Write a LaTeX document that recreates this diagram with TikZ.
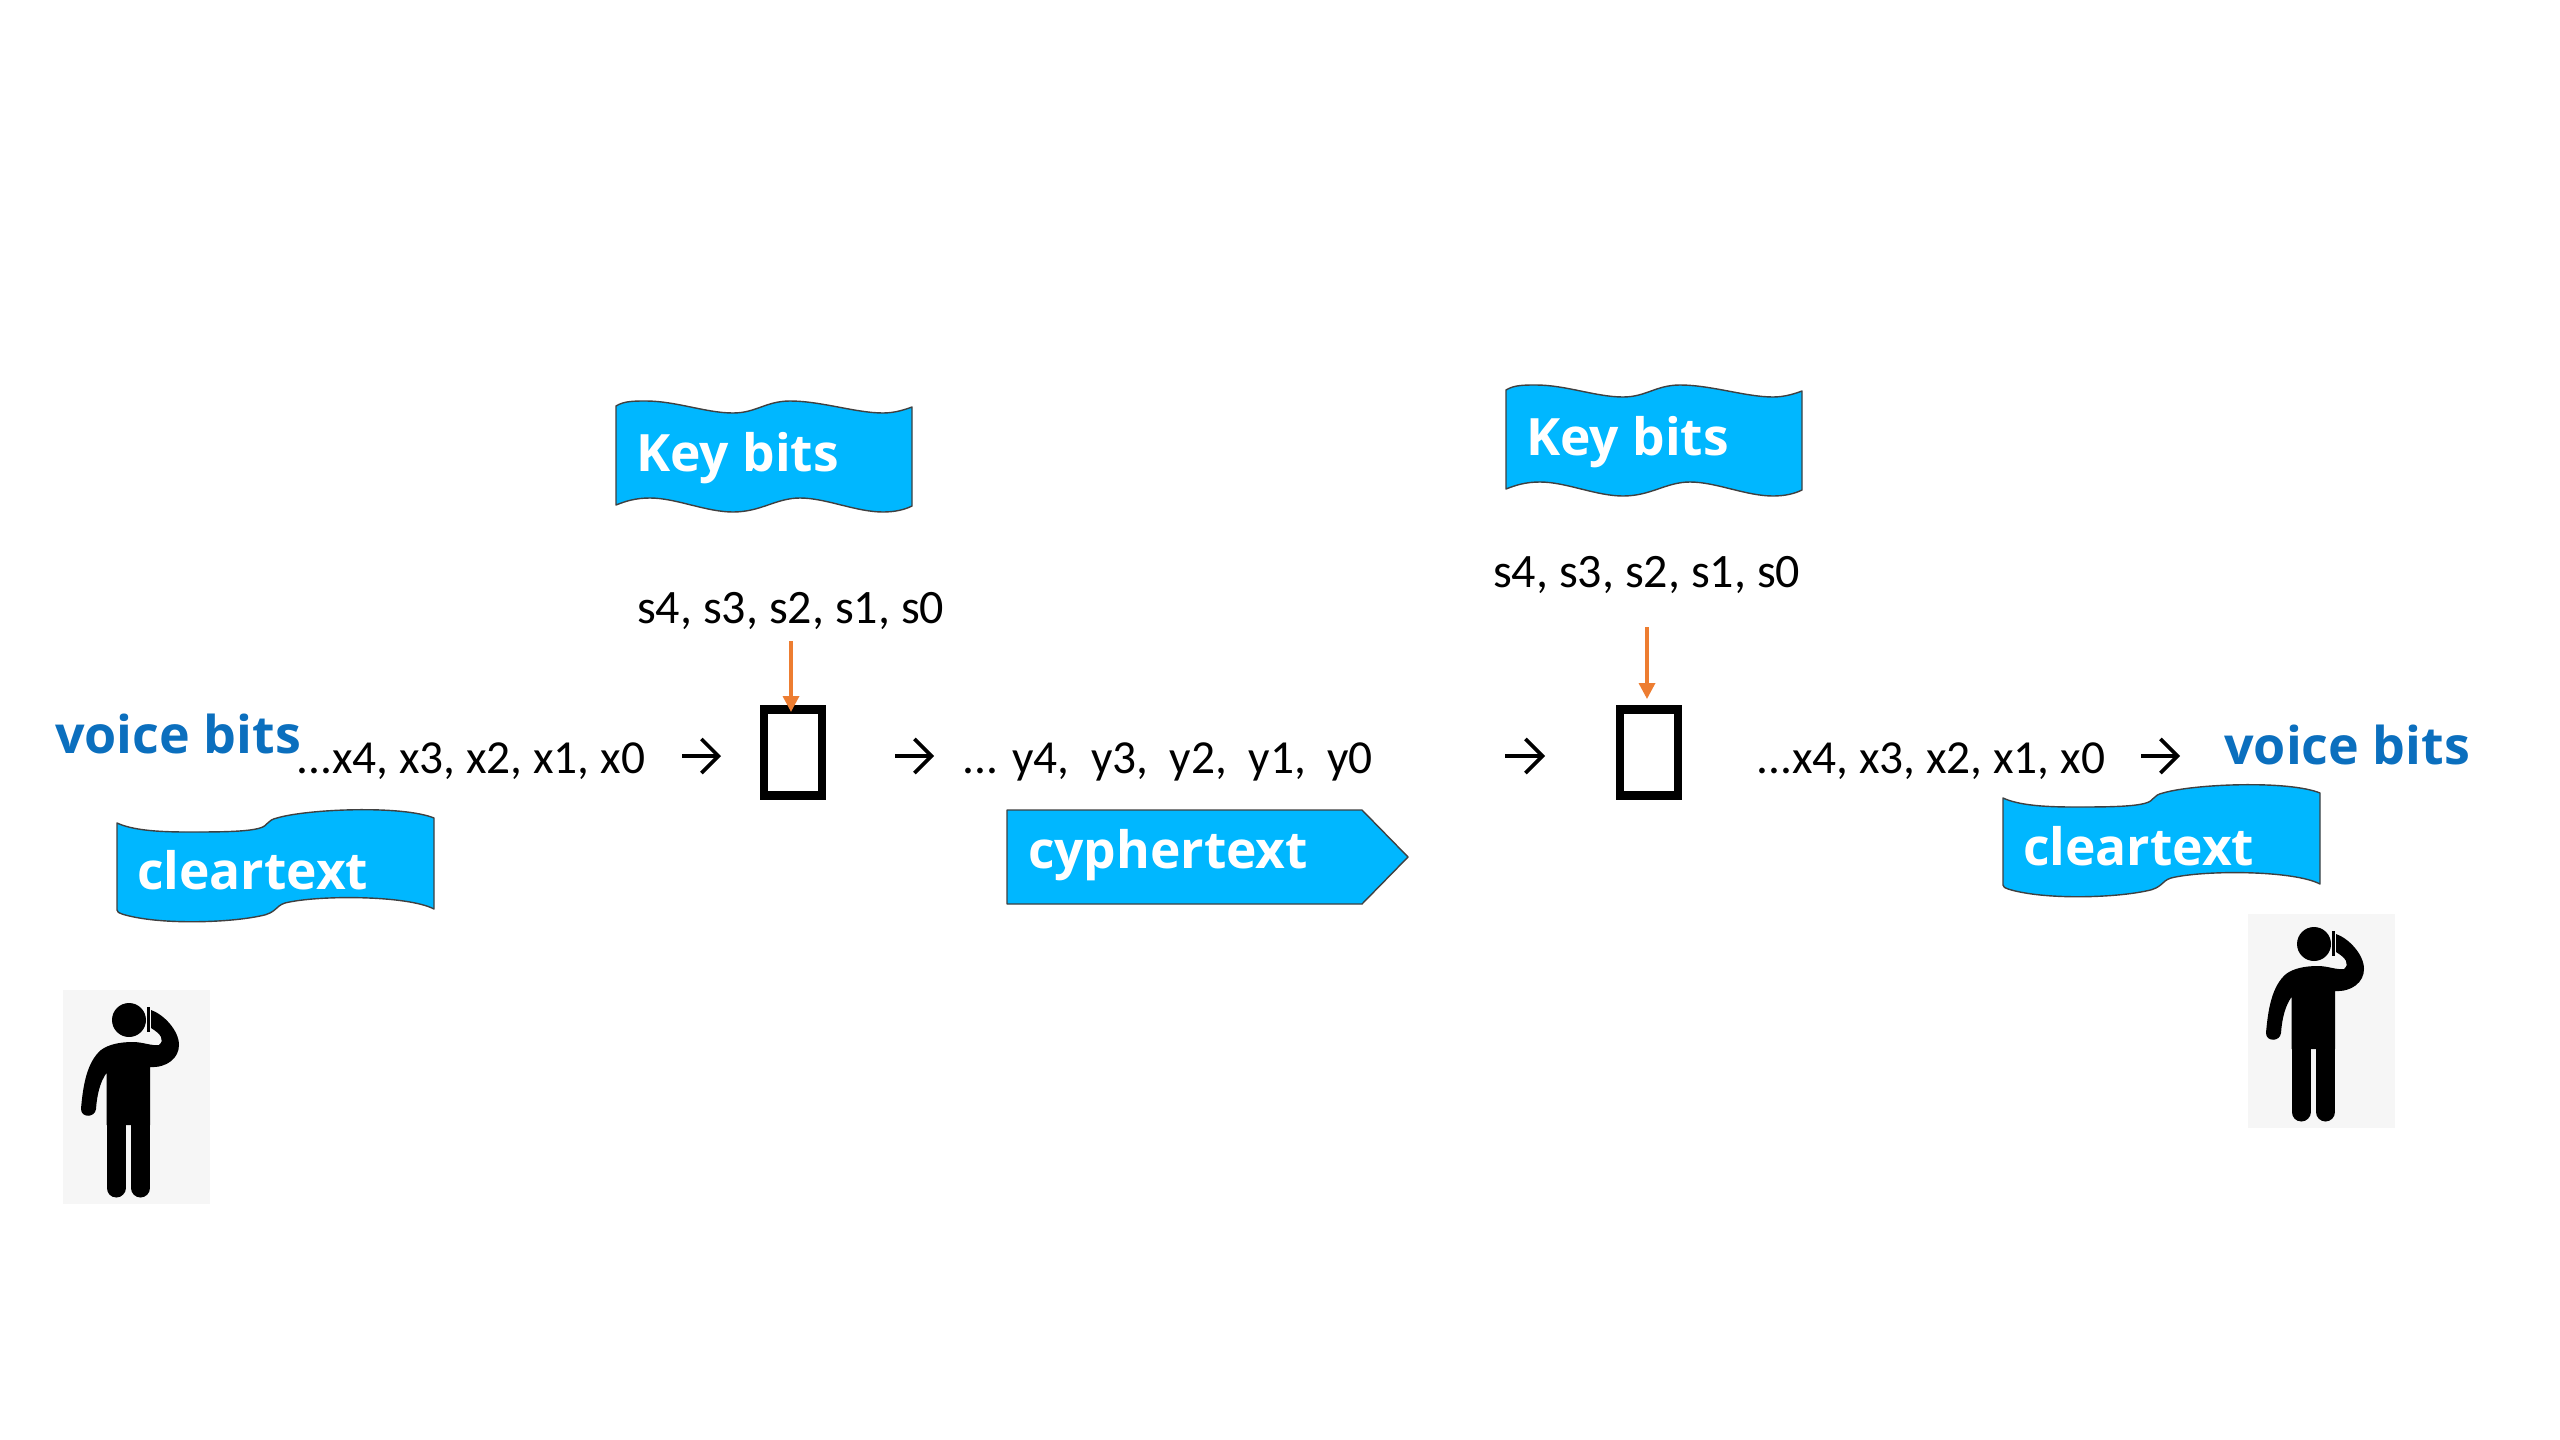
\documentclass[tikz,border=0pt]{standalone}
\usepackage{fontspec}
\setmainfont{Carlito}
\newfontfamily\flagfont{Open Sans}
\usetikzlibrary{arrows.meta}
\definecolor{flagblue}{HTML}{00B7FF}
\definecolor{voiceblue}{HTML}{0B6FBE}
\definecolor{keyorange}{HTML}{ED7D31}
\definecolor{photogray}{HTML}{F6F6F6}
\tikzset{
  seq/.style={anchor=base west,inner sep=0pt,font=\fontsize{48}{54}\selectfont,text=black},
  seqrow/.style={seq,font=\fontsize{47.4}{54}\selectfont},
  flagtext/.style={anchor=base west,inner sep=0pt,font=\flagfont\bfseries\fontsize{51.5}{58}\selectfont,text=white},
  voice/.style={anchor=base west,inner sep=0pt,font=\flagfont\bfseries\fontsize{52}{58}\selectfont,text=voiceblue},
  flagline/.style={fill=flagblue,draw=black!75,line width=1.4pt,line join=round},
  gatebox/.style={draw=black,line width=8.5pt,fill=white,minimum width=58pt,minimum height=86pt,inner sep=0pt,rectangle},
  flow/.style={draw=black,line width=3.6pt,-{Straight Barb[length=17pt,width=34pt,line width=3.6pt]}},
  keyflow/.style={draw=keyorange,line width=3.4pt,-{Triangle[length=16pt,width=16pt]}},
  cleartextflag/.pic={
    \path[flagline] (0,0) .. controls (15,7) and (40,9) .. (70,9)
      .. controls (100,9) and (130,9) .. (143,5)
      .. controls (151,3) and (150,-3) .. (160,-5)
      .. controls (190,-14) and (285,-18) .. (317,-5)
      -- (317,86)
      .. controls (290,72) and (200,72) .. (168,80)
      .. controls (158,83) and (160,90) .. (143,93)
      .. controls (110,100) and (40,102) .. (5,91)
      .. controls (2,90) and (0,89) .. (0,87) -- cycle;
  },
  keyflag/.pic={
    \path[flagline] (0,0) .. controls (8,-5) and (18,-5) .. (30,-5)
      .. controls (60,-5) and (90,7) .. (117,7)
      .. controls (140,7) and (150,-5) .. (174,-5)
      .. controls (205,-5) and (240,7) .. (267,7)
      .. controls (278,7) and (288,4) .. (296,1)
      -- (296,100)
      .. controls (288,104) and (278,106) .. (267,106)
      .. controls (240,106) and (210,92) .. (184,92)
      .. controls (160,92) and (145,106) .. (117,106)
      .. controls (90,106) and (60,92) .. (34,92)
      .. controls (20,92) and (10,95) .. (0,99) -- cycle;
  },
  callerpic/.pic={
    \fill[photogray] (0,0) rectangle (147,214);
    \fill[black] (66,30) circle (17);
    \fill[black] (43.5,135) -- (43.5,83)
      .. controls (37,92) and (34,105) .. (33,119)
      .. controls (32,128) and (18,128) .. (18,119)
      .. controls (20,95) and (24,72) .. (38,60)
      .. controls (46,54) and (58,52) .. (70,52)
      .. controls (80,52) and (88,56) .. (96,55)
      .. controls (102,50) and (98,44) .. (88,38)
      -- (88,20)
      .. controls (100,24) and (116,40) .. (116,55)
      .. controls (116,68) and (104,78) .. (87,77)
      -- (87,135) -- cycle;
    \draw[black,line width=19pt,line cap=round] (53,130) -- (53,198);
    \draw[black,line width=19pt,line cap=round] (77.5,130) -- (77.5,198);
    \draw[black,line width=3pt] (85,17) -- (85,42);
  }
}
\begin{document}
\begin{tikzpicture}[x=1pt,y=-1pt]
\useasboundingbox (0,0) rectangle (2560,1440);
\fill[white] (0,0) rectangle (2560,1440);

% photos
\pic at (63,990) {callerpic};
\pic at (2248,914) {callerpic};

% flags
\pic at (117,823) {cleartextflag};
\pic at (2003,798) {cleartextflag};
\pic at (616,406) {keyflag};
\pic at (1506,390) {keyflag};
\path[flagline] (1007,810) -- (1362,810) -- (1408,857) -- (1362,904) -- (1007,904) -- cycle;

% flag labels
\node[flagtext] (clearL) at (137,889) {cleartext};
\node[flagtext] (clearR) at (2023,865) {cleartext};
\node[flagtext] (keyL) at (636,471) {Key bits};
\node[flagtext] (keyR) at (1526,455) {Key bits};
\node[flagtext] (cypher) at (1028,868) {cyphertext};
\node[voice] (voiceL) at (55,753) {voice bits};
\node[voice] (voiceR) at (2224,764) {voice bits};

% sequences
\node[seqrow] (xL) at (296,773) {...x4, x3, x2, x1, x0};
\node[seqrow] (yM) at (962,773) {... y4,\ \ y3,\ \ y2,\ \ y1,\ \ y0};
\node[seqrow] (xR) at (1756,773) {...x4, x3, x2, x1, x0};
\node[seq] (sL) at (637,623) {s4, s3, s2, s1, s0};
\node[seq] (sR) at (1493,587) {s4, s3, s2, s1, s0};

% gates
\node[gatebox] (gateL) at (793,752.5) {};
\node[gatebox] (gateR) at (1649,752.5) {};

% flow arrows
\coordinate (a1s) at (682,756); \coordinate (a1e) at (721,756);
\coordinate (a2s) at (895,756); \coordinate (a2e) at (934,756);
\coordinate (a3s) at (1505,756); \coordinate (a3e) at (1545,756);
\coordinate (a4s) at (2141,756); \coordinate (a4e) at (2180,756);
\draw[flow] (a1s) -- (a1e);
\draw[flow] (a2s) -- (a2e);
\draw[flow] (a3s) -- (a3e);
\draw[flow] (a4s) -- (a4e);

% key arrows
\coordinate (k1) at (791,641); \coordinate (k1e) at (791,712);
\coordinate (k2) at (1647,627); \coordinate (k2e) at (1647,699);
\draw[keyflow] (k1) -- (k1e);
\draw[keyflow] (k2) -- (k2e);
\end{tikzpicture}
\end{document}
